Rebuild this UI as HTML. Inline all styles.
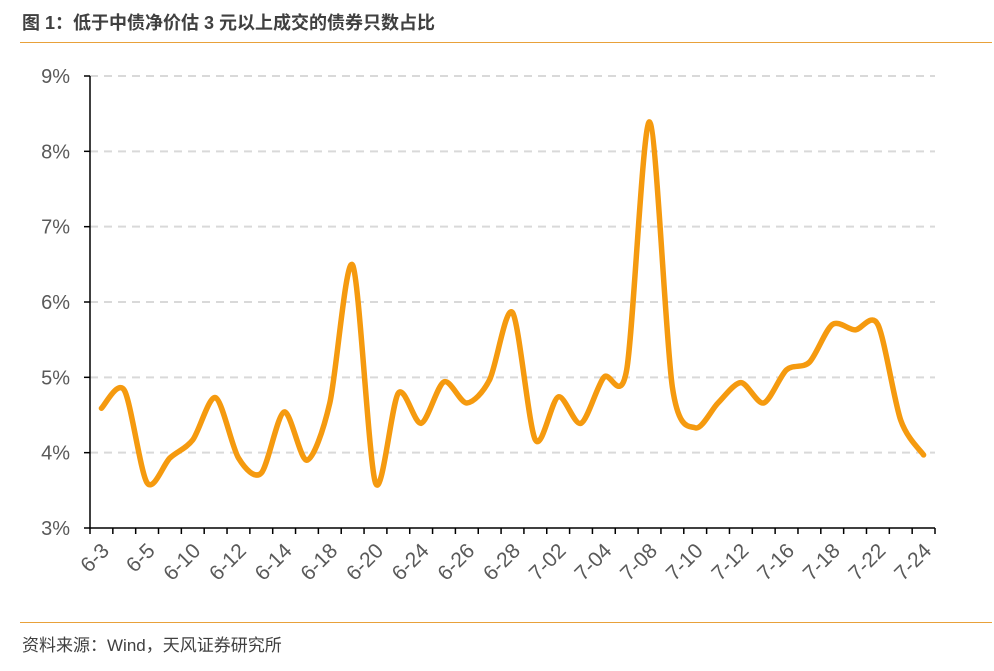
<!DOCTYPE html>
<html><head><meta charset="utf-8"><style>
body{margin:0;background:#fff;width:994px;height:666px;overflow:hidden;font-family:"Liberation Sans","Noto Sans CJK SC",sans-serif;}
svg text{font-family:"Liberation Sans","Noto Sans CJK SC",sans-serif;}
</style></head><body>
<svg width="994" height="666">
<text x="22" y="29" font-size="18" font-weight="bold" fill="#404040">图 1：低于中债净价估 3 元以上成交的债券只数占比</text>
<line x1="20" y1="42.5" x2="992" y2="42.5" stroke="#E8A13A" stroke-width="1"/>
<line x1="20" y1="622.5" x2="992" y2="622.5" stroke="#E8A13A" stroke-width="1"/>
<text x="22" y="651" font-size="17" fill="#404040">资料来源：Wind，天风证券研究所</text>
<g id="plot"></g>
</svg>
<script>
const categories=["6-3","6-4","6-5","6-7","6-10","6-11","6-12","6-13","6-14","6-17","6-18","6-19","6-20","6-21","6-24","6-25","6-26","6-27","6-28","7-01","7-02","7-03","7-04","7-05","7-08","7-09","7-10","7-11","7-12","7-15","7-16","7-17","7-18","7-19","7-22","7-23","7-24"];
const values=[4.59,4.83,3.6,3.93,4.17,4.73,3.93,3.73,4.54,3.9,4.66,6.49,3.6,4.79,4.39,4.94,4.66,4.97,5.86,4.17,4.74,4.39,5.0,5.1,8.39,4.87,4.33,4.66,4.93,4.66,5.1,5.2,5.7,5.63,5.7,4.43,3.97];
const yTicks=[3,4,5,6,7,8,9];
const NS="http://www.w3.org/2000/svg";
const g=document.getElementById('plot');
const X0=90,X1=935,Y0=528,Y1=76,yMin=3,yMax=9;
const step=(X1-X0)/categories.length;
const xs=i=>X0+step*(i+0.5);
const ys=v=>Y0-(v-yMin)/(yMax-yMin)*(Y0-Y1);
function mk(t,a){const e=document.createElementNS(NS,t);for(const k in a)e.setAttribute(k,a[k]);g.appendChild(e);return e;}
yTicks.forEach(t=>{
 if(t>yMin){const l=mk('line',{x1:X0,x2:X1,y1:ys(t),y2:ys(t),stroke:'#d9d9d9','stroke-width':2,'stroke-dasharray':'8,6'});
 
 }
 const tk=mk('line',{x1:X0-6,x2:X0,y1:ys(t),y2:ys(t),stroke:'#000','stroke-width':1.5});
 
 
 const tx=mk('text',{x:X0-20,y:ys(t)+7,'text-anchor':'end','font-size':20,fill:'#595959'});
 tx.textContent=t+'%';
 
 
});
const ya=mk('line',{x1:X0,x2:X0,y1:Y1,y2:Y0,stroke:'#000','stroke-width':1.5});


const xa=mk('line',{x1:X0,x2:X1,y1:Y0,y2:Y0,stroke:'#000','stroke-width':1.5});


for(let i=0;i<=categories.length;i++){
 const x=X0+step*i;
 const t=mk('line',{x1:x,x2:x,y1:Y0,y2:Y0+6,stroke:'#000','stroke-width':1.5});
 
 
}
categories.forEach((c,i)=>{
 if(i%2)return;
 const x=xs(i)+9,y=Y0+24;
 const t=mk('text',{x:x,y:y,'text-anchor':'end','font-size':21,fill:'#595959',transform:`rotate(-45 ${x} ${y})`});
 t.textContent=c;
 
 
});
const P=values.map((v,i)=>[xs(i),ys(v)]);
let d=`M${P[0][0]},${P[0][1]}`;
for(let i=0;i<P.length-1;i++){
 const p0=P[Math.max(0,i-1)],p1=P[i],p2=P[i+1],p3=P[Math.min(P.length-1,i+2)];
 const k=1/7;
 d+=` C${p1[0]+(p2[0]-p0[0])*k},${p1[1]+(p2[1]-p0[1])*k} ${p2[0]-(p3[0]-p1[0])*k},${p2[1]-(p3[1]-p1[1])*k} ${p2[0]},${p2[1]}`;
}
const ln=mk('path',{d:d,fill:'none',stroke:'#F59A0F','stroke-width':5.5,'stroke-linejoin':'round','stroke-linecap':'round'});


</script>
</body></html>
